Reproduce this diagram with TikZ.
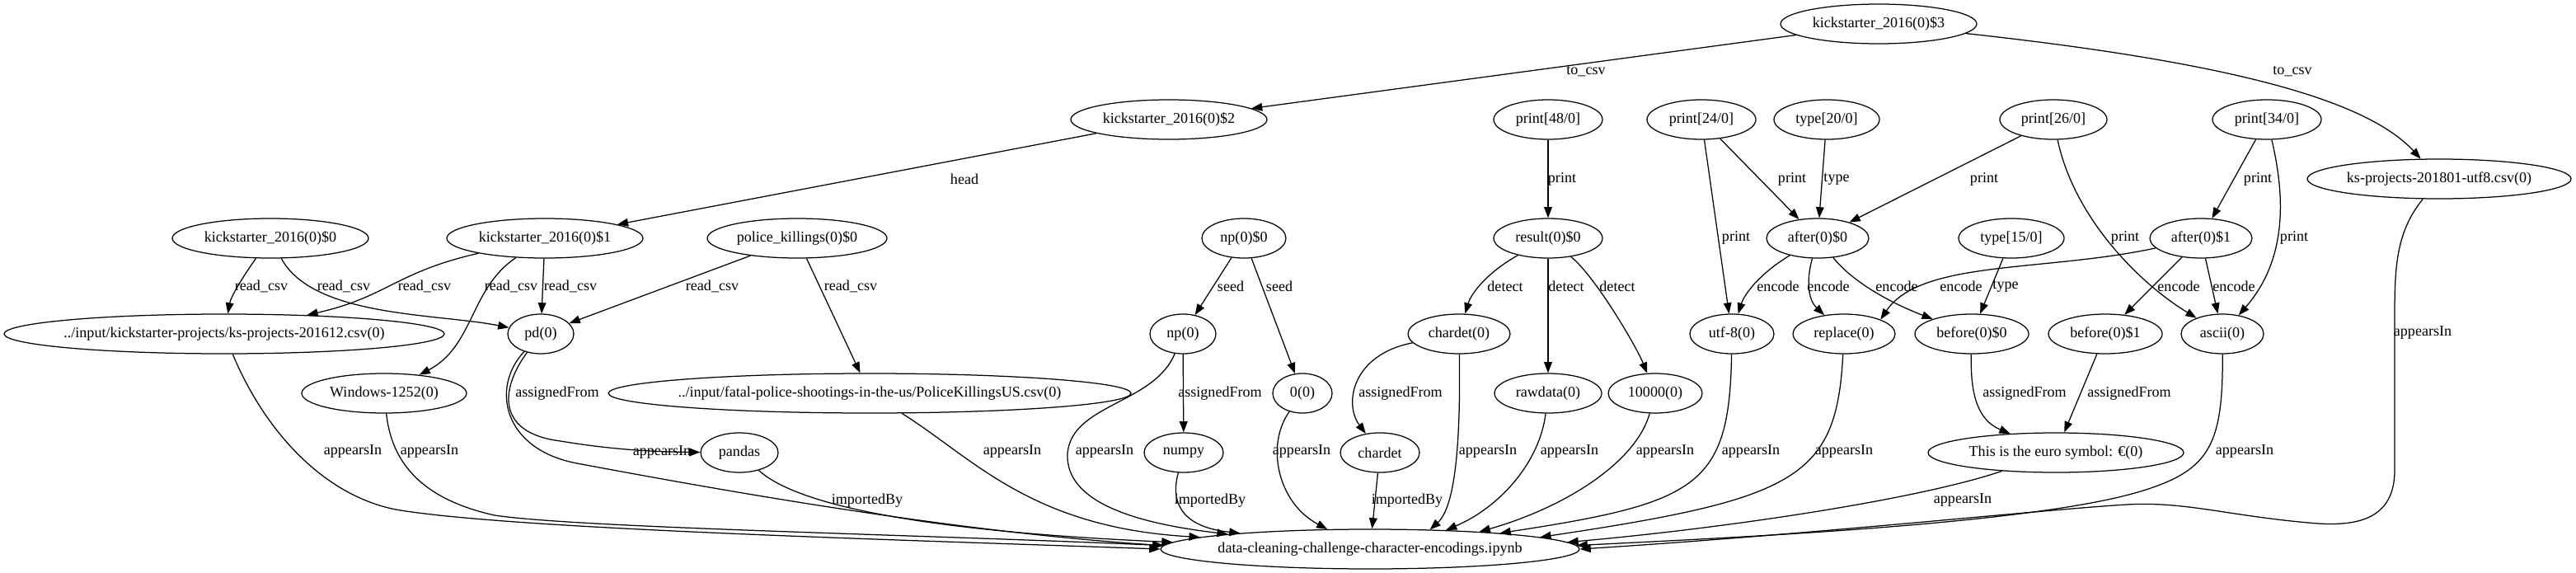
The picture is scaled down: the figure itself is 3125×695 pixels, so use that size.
\documentclass[tikz,border=0pt]{standalone}
\usepackage{fontspec}
\setmainfont{Liberation Serif}
\usetikzlibrary{arrows.meta,shapes.geometric}
\newcommand\zb[1]{\makebox[0pt]{#1}}
\begin{document}
\begin{tikzpicture}[x=0.72pt,y=-0.72pt,
  font=\fontsize{13}{15}\selectfont,
  line width=0.9pt,
  >={Triangle[length=9.5pt,width=7pt]},
  nd/.style={draw, ellipse, inner sep=0pt, minimum height=48*0.72pt, minimum width=#1*0.72pt},
  lb/.style={inner sep=0pt},
  ed/.style={->}]
\path[use as bounding box] (0,0) rectangle (3125,695);
% nodes
\node[nd=238] (k3) at (2279,29) {\zb{kickstarter\_2016(0)\$3}};
\node[nd=238] (k2) at (1418,145) {\zb{kickstarter\_2016(0)\$2}};
\node[nd=238] (k1) at (661,289) {\zb{kickstarter\_2016(0)\$1}};
\node[nd=238] (k0) at (328,289) {\zb{kickstarter\_2016(0)\$0}};
\node[nd=218] (pk) at (967,289) {\zb{police\_killings(0)\$0}};
\node[nd=102] (np0) at (1509,289) {\zb{np(0)\$0}};
\node[nd=132] (p48) at (1878,145) {\zb{print[48/0]}};
\node[nd=132] (res) at (1878,289) {\zb{result(0)\$0}};
\node[nd=132] (p24) at (2064,145) {\zb{print[24/0]}};
\node[nd=128] (t20) at (2216,145) {\zb{type[20/0]}};
\node[nd=124] (a0) at (2205,289) {\zb{after(0)\$0}};
\node[nd=130] (p26) at (2491,145) {\zb{print[26/0]}};
\node[nd=132] (p34) at (2750,145) {\zb{print[34/0]}};
\node[nd=320] (ks18) at (2959,217) {\zb{ks-projects-201801-utf8.csv(0)}};
\node[nd=128] (t15) at (2440,289) {\zb{type[15/0]}};
\node[nd=124] (a1) at (2670,289) {\zb{after(0)\$1}};
\node[nd=534] (ks16) at (272,405) {\zb{../input/kickstarter-projects/ks-projects-201612.csv(0)}};
\node[nd=80] (pd) at (656,405) {\zb{pd(0)}};
\node[nd=80] (np) at (1435,405) {\zb{np(0)}};
\node[nd=124] (ch0) at (1770,405) {\zb{chardet(0)}};
\node[nd=102] (utf) at (2101,405) {\zb{utf-8(0)}};
\node[nd=124] (rep) at (2237,405) {\zb{replace(0)}};
\node[nd=138] (b0) at (2392,405) {\zb{before(0)\$0}};
\node[nd=138] (b1) at (2554,405) {\zb{before(0)\$1}};
\node[nd=100] (asc) at (2696,405) {\zb{ascii(0)}};
\node[nd=200] (win) at (466,477) {\zb{Windows-1252(0)}};
\node[nd=634] (fat) at (1055,477) {\zb{../input/fatal-police-shootings-in-the-us/PoliceKillingsUS.csv(0)}};
\node[nd=72] (z0) at (1580,477) {\zb{0(0)}};
\node[nd=130] (raw) at (1878,477) {\zb{rawdata(0)}};
\node[nd=114] (tenk) at (2008,477) {\zb{10000(0)}};
\node[nd=94] (pandas) at (897,549) {\zb{pandas}};
\node[nd=96] (numpy) at (1436,549) {\zb{numpy}};
\node[nd=96] (chardet) at (1674,549) {\zb{chardet}};
\node[nd=310] (euro) at (2494,549) {\zb{This is the euro symbol: €(0)}};
\node[nd=508] (data) at (1662,666) {\zb{data-cleaning-challenge-character-encodings.ipynb}};
% edges
\draw[ed] (k3) -- (k2);
\draw[ed] (k3) .. controls (2700,75) and (2870,120) .. (ks18);
\draw[ed] (k2) -- (k1);
\draw[ed] (k0) .. controls (295,335) and (280,360) .. (ks16);
\draw[ed] (k0) .. controls (380,385) and (530,380) .. (pd);
\draw[ed] (k1) .. controls (480,330) and (470,360) .. (ks16);
\draw[ed] (k1) .. controls (570,350) and (575,420) .. (win);
\draw[ed] (k1) -- (pd);
\draw[ed] (pk) -- (pd);
\draw[ed] (pk) -- (fat);
\draw[ed] (np0) -- (np);
\draw[ed] (np0) -- (z0);
\draw[ed] (p48) -- (res);
\draw[ed] (res) .. controls (1805,330) and (1785,355) .. (ch0);
\draw[ed] (res) -- (raw);
\draw[ed] (res) .. controls (1935,335) and (1985,420) .. (tenk);
\draw[ed] (p24) -- (a0);
\draw[ed] (p24) -- (utf);
\draw[ed] (t20) -- (a0);
\draw[ed] (p26) -- (a0);
\draw[ed] (p26) .. controls (2515,260) and (2590,340) .. (asc);
\draw[ed] (p34) -- (a1);
\draw[ed] (p34) .. controls (2775,250) and (2770,320) .. (asc);
\draw[ed] (a0) .. controls (2130,335) and (2115,360) .. (utf);
\draw[ed] (a0) .. controls (2190,345) and (2195,365) .. (rep);
\draw[ed] (a0) .. controls (2250,345) and (2300,370) .. (b0);
\draw[ed] (a1) .. controls (2480,330) and (2330,315) .. (rep.north east);
\draw[ed] (a1) -- (b1);
\draw[ed] (a1) -- (asc);
\draw[ed] (t15) -- (b0);
\draw[ed] (np) -- (numpy);
\draw[ed] (ch0) .. controls (1640,430) and (1630,490) .. (chardet);
\draw[ed] (pd) .. controls (608,470) and (600,525) .. (680,535) .. controls (740,545) and (790,548) .. (pandas);
\draw[ed] (b0) .. controls (2390,480) and (2400,510) .. (euro);
\draw[ed] (b1) -- (euro);
% to data
\draw[ed] (ks16) .. controls (320,520) and (390,600) .. (480,618) .. controls (620,642) and (1100,655) .. (data.180);
\draw[ed] (win) .. controls (475,560) and (510,605) .. (600,625) .. controls (700,640) and (1100,648) .. (data.179);
\draw[ed] (pd) .. controls (595,470) and (610,545) .. (700,562) .. controls (850,590) and (1150,645) .. (data.179);
\draw[ed] (pandas) .. controls (980,625) and (1200,648) .. (data.178);
\draw[ed] (fat) .. controls (1180,555) and (1250,640) .. (data.176);
\draw[ed] (np) .. controls (1400,490) and (1300,490) .. (1295,550) .. controls (1292,610) and (1380,635) .. (data.174);
\draw[ed] (numpy) .. controls (1418,615) and (1440,640) .. (data.173);
\draw[ed] (z0) .. controls (1535,540) and (1550,610) .. (data.155);
\draw[ed] (chardet) -- (data);
\draw[ed] (ch0) .. controls (1772,540) and (1765,615) .. (data.18);
\draw[ed] (raw) .. controls (1868,560) and (1820,615) .. (data.14);
\draw[ed] (tenk) .. controls (1985,560) and (1900,615) .. (data.9);
\draw[ed] (utf) .. controls (2098,590) and (2060,610) .. (data.7);
\draw[ed] (rep) .. controls (2228,580) and (2180,605) .. (data.4);
\draw[ed] (euro) .. controls (2330,605) and (2100,640) .. (data.2);
\draw[ed] (asc) .. controls (2697,540) and (2680,570) .. (2600,595) .. controls (2470,636) and (2100,652) .. (data.1);
\draw[ed] (ks18) .. controls (2908,280) and (2905,320) .. (2905,380) -- (2905,570) .. controls (2905,630) and (2860,640) .. (2800,634) .. controls (2700,625) and (2650,608) .. (2580,612) .. controls (2480,618) and (2200,648) .. (data.0);
% labels
\node[lb] (l1) at (1924,87) {to\_csv};
\node[lb] (l2) at (2781,87) {to\_csv};
\node[lb] (l3) at (1170,217) {head};
\node[lb] (l4) at (317,347) {read\_csv};
\node[lb] (l5) at (417,347) {read\_csv};
\node[lb] (l6) at (515,347) {read\_csv};
\node[lb] (l7) at (620,347) {read\_csv};
\node[lb] (l8) at (692,347) {read\_csv};
\node[lb] (l9) at (864,347) {read\_csv};
\node[lb] (l10) at (1032,347) {read\_csv};
\node[lb] (l11) at (1493,347) {seed};
\node[lb] (l12) at (1552,347) {seed};
\node[lb] (l13) at (1895,217) {print};
\node[lb] (l14) at (2174,217) {print};
\node[lb] (l15) at (2106,288) {print};
\node[lb] (l16) at (2407,217) {print};
\node[lb] (l17) at (2578,288) {print};
\node[lb] (l18) at (2739,217) {print};
\node[lb] (l19) at (2783,288) {print};
\node[lb] (l20) at (2228,217) {type};
\node[lb] (l21) at (2433,347) {type};
\node[lb] (l22) at (1826,347) {detect};
\node[lb] (l23) at (1900,347) {detect};
\node[lb] (l24) at (1962,347) {detect};
\node[lb] (l25) at (2157,347) {encode};
\node[lb] (l26) at (2218,347) {encode};
\node[lb] (l27) at (2301,347) {encode};
\node[lb] (l28) at (2379,347) {encode};
\node[lb] (l29) at (2643,347) {encode};
\node[lb] (l30) at (2710,347) {encode};
\node[lb] (l31) at (676,477) {assignedFrom};
\node[lb] (l32) at (1480,477) {assignedFrom};
\node[lb] (l33) at (1699,477) {assignedFrom};
\node[lb] (l34) at (2456,477) {assignedFrom};
\node[lb] (l35) at (2583,477) {assignedFrom};
\node[lb] (l36) at (428,548) {appearsIn};
\node[lb] (l37) at (521,548) {appearsIn};
\node[lb] (l38) at (803,549) {appearsIn};
\node[lb] (l39) at (1228,548) {appearsIn};
\node[lb] (l40) at (1340,548) {appearsIn};
\node[lb] (l41) at (1579,548) {appearsIn};
\node[lb] (l42) at (1805,548) {appearsIn};
\node[lb] (l43) at (1904,548) {appearsIn};
\node[lb] (l44) at (2020,548) {appearsIn};
\node[lb] (l45) at (2124,548) {appearsIn};
\node[lb] (l46) at (2237,548) {appearsIn};
\node[lb] (l47) at (2723,548) {appearsIn};
\node[lb] (l48) at (2381,607) {appearsIn};
\node[lb] (l49) at (2939,404) {appearsIn};
\node[lb] (l50) at (1052,607) {importedBy};
\node[lb] (l51) at (1468,607) {importedBy};
\node[lb] (l52) at (1707,607) {importedBy};
\end{tikzpicture}
\end{document}
